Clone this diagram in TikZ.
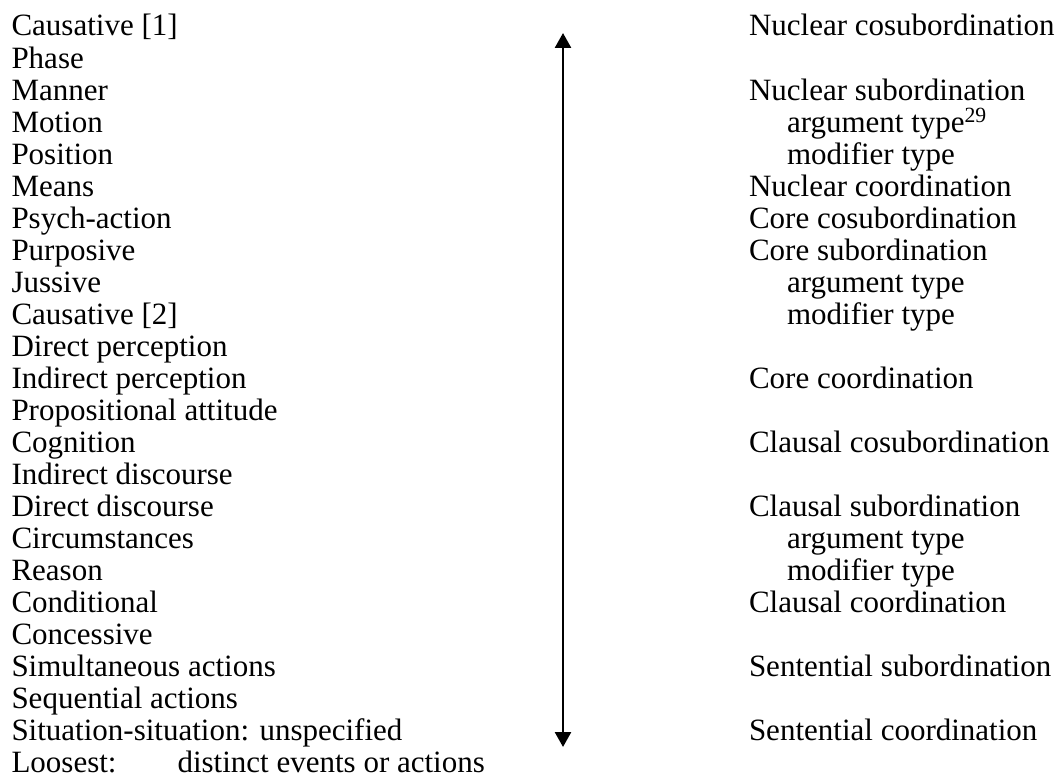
\documentclass[tikz,border=0pt]{standalone}
\usepackage{fontspec}
\setmainfont{Liberation Serif}
\usetikzlibrary{arrows.meta}
\begin{document}
\begin{tikzpicture}[x=1pt,y=-1pt,
  entry/.style={anchor=base west,inner sep=0pt,outer sep=0pt,
    font=\fontsize{31}{32}\selectfont},
  scale arrow/.style={line width=2.6pt,
    {Triangle[width=16pt,length=15pt]}-{Triangle[width=16pt,length=15pt]}}]
\useasboundingbox (0,0) rectangle (1064,776);
% left column: types of semantic relations, tightest first
\foreach \txt [count=\i from 0] in {Causative [1],Phase,Manner,Motion,Position,Means,Psych-action,Purposive,Jussive,Causative [2],Direct perception,Indirect perception,Propositional attitude,Cognition,Indirect discourse,Direct discourse,Circumstances,Reason,Conditional,Concessive,Simultaneous actions,Sequential actions,Situation-situation: unspecified}
  \node[entry] (L\i) at (11.5,{36+32*\i}) {\txt};
\node[entry] (L23) at (11.5,772) {\makebox[166pt][l]{Loosest:}distinct events or actions};
% right column: juncture-nexus types
\foreach \txt/\r/\xx in {Nuclear cosubordination/0/749,Nuclear subordination/2/749,modifier type/4/787,Nuclear coordination/5/749,Core cosubordination/6/749,Core subordination/7/749,argument type/8/787,modifier type/9/787,Core coordination/11/749,Clausal cosubordination/13/749,Clausal subordination/15/749,argument type/16/787,modifier type/17/787,Clausal coordination/18/749,Sentential subordination/20/749,Sentential coordination/22/749}
  \node[entry] (R\r) at (\xx,{36+32*\r}) {\txt};
\node[entry] (R3) at (787,132) {argument type\textsuperscript{29}};
% double-headed scale arrow
\coordinate (tight) at (563,33);
\coordinate (loose) at (563,747);
\draw[scale arrow] (tight) -- (loose);
\end{tikzpicture}
\end{document}
